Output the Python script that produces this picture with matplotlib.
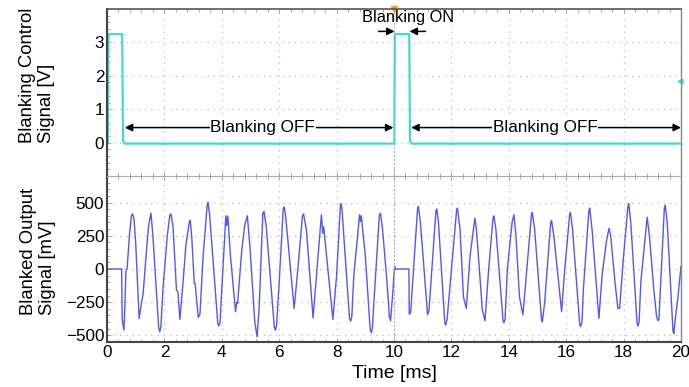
import matplotlib
matplotlib.use("Agg")
import matplotlib.pyplot as plt
from matplotlib.ticker import MultipleLocator

plt.rcParams['font.family'] = ['Liberation Sans', 'DejaVu Sans']

# ---- data ----
ctrl_t = [0.0, 0.03, 0.05, 0.53, 0.56, 0.62, 9.98, 10.01, 10.03, 10.53, 10.56, 10.62, 20.0]
ctrl_v = [0.0, 0.0, 3.25, 3.25, 0.05, -0.03, -0.03, 0.0, 3.25, 3.25, 0.05, -0.03, -0.03]

out_t = [0.0, 0.51, 0.53, 0.59, 0.62, 0.66, 0.70, 0.78, 0.85, 0.89, 0.94, 1.00, 1.12, 1.17, 1.26,
         1.38, 1.45, 1.53, 1.60, 1.80, 1.84, 1.88, 1.95, 2.10, 2.19, 2.23, 2.30, 2.42, 2.47, 2.54, 2.65, 2.75,
         2.87, 2.90, 2.95, 3.04, 3.07, 3.18, 3.24, 3.35, 3.49, 3.52, 3.58, 3.86, 3.90, 3.94, 4.00, 4.14, 4.17, 4.21,
         4.30, 4.48, 4.52, 4.55, 4.70, 4.80, 4.89, 4.98, 5.15, 5.23, 5.30, 5.43, 5.47, 5.55, 5.83, 5.87, 5.91,
         6.00, 6.14, 6.17, 6.22, 6.35, 6.52, 6.65, 6.81, 6.85, 6.95, 7.18, 7.30, 7.47, 7.52, 7.55, 7.87,
         8.00, 8.13, 8.16, 8.20, 8.25, 8.45, 8.49, 8.53, 8.60, 8.80, 8.83, 8.86, 9.00, 9.17, 9.21, 9.25, 9.30, 9.49, 9.53, 9.60, 9.75,
         9.84, 9.88, 9.95, 10.02, 10.04, 10.52,
         10.53, 10.58, 10.82, 10.85, 10.92, 11.17, 11.22, 11.46, 11.49, 11.55, 11.77, 11.80, 11.85, 12.18, 12.21, 12.30,
         12.42, 12.52, 12.65, 12.82, 12.87, 13.05, 13.07, 13.17, 13.30, 13.45, 13.48, 13.55, 13.80, 13.83, 13.87,
         13.95, 14.12, 14.18, 14.25, 14.37, 14.49, 14.55, 14.79, 14.82, 14.90, 15.14, 15.17, 15.25, 15.46, 15.49,
         15.57, 15.84, 15.95, 16.12, 16.15, 16.22, 16.47, 16.50, 16.55, 16.60, 16.79, 16.82, 16.90, 17.14, 17.25, 17.40,
         17.49, 17.55, 17.70, 17.80, 17.86, 18.00, 18.15, 18.18, 18.25, 18.47, 18.50, 18.54, 18.60, 18.82, 18.90,
         19.05, 19.15, 19.20, 19.23, 19.42, 19.45, 19.52, 19.72, 19.75, 19.80, 19.90, 20.0]
out_mv = [0, 0, -380, -460, -300, -10, 0, 250, 400, 415, 380, 194, -373, -300, -184,
          150, 327, 420, 250, -440, -473, -430, -150, 250, 405, 415, 320, -160, -170, -380, -100, 183,
          355, 365, 250, -108, -110, -365, -340, 100, 480, 501, 400, -410, -430, -400, -150, 400, 327, 398,
          100, -322, -249, -260, 150, 330, 400, 168, -400, -511, -300, 420, 433, 317, -440, -461, -420,
          -100, 450, 466, 408, 100, -297, 0, 400, 415, 290, -368, -50, 408, 270, 317, -380,
          -50, 470, 491, 420, 250, -370, -393, -360, -50, 408, 358, 400, 100, -455, -481, -440, -250, 405, 420, 300, -83,
          -360, -390, -200, 20, 0, 0,
          -340, -330, 450, 471, 350, -345, -310, 435, 451, 350, -405, -423, -380, 440, 458, 300,
          -210, -297, 100, 383, 300, -222, -300, -390, 0, 385, 400, 300, -390, -405, -380,
          0, 360, 408, 250, -207, -345, -200, 410, 425, 300, -380, -398, -250, 350, 365,
          250, -322, 0, 410, 425, 300, -415, -435, -400, -150, 440, 458, 300, -373, -50, 207,
          307, 250, -100, -297, -297, 100, 470, 491, 350, -410, -430, -400, -100, 390, 250,
          -150, -360, -390, -380, 460, 478, 350, -465, -486, -380, -200, 20]

x_ticks = list(range(0, 21, 2))
ctrl_ticks = [0, 1, 2, 3]
out_ticks = [-500, -250, 0, 250, 500]

# ---- figure ----
fig = plt.figure(figsize=(6.89, 3.87), dpi=100)
L, W = 107/689, 574/689
ax1 = fig.add_axes([L, 1 - 176/387, W, 167/387])
ax2 = fig.add_axes([L, 1 - 342/387, W, 166/387])

CYAN = '#3fdcd6'
BLUE = '#5058f5'
GRID = '#b8b8b8'

ax1.plot(ctrl_t, ctrl_v, color=CYAN, lw=1.6, solid_joinstyle='miter')
ax2.plot(out_t, out_mv, color=BLUE, lw=1.0)

ax1.set_xlim(0, 20); ax1.set_ylim(-1, 4)
ax2.set_xlim(0, 20); ax2.set_ylim(-550, 700)

for ax, yt, ymin in ((ax1, ctrl_ticks, 0.2), (ax2, out_ticks, 50)):
    ax.set_xticks(x_ticks)
    ax.set_yticks(yt)
    ax.xaxis.set_minor_locator(MultipleLocator(0.4))
    ax.yaxis.set_minor_locator(MultipleLocator(ymin))
    ax.grid(True, which='major', color=GRID, linestyle=(0, (1, 4)), lw=0.9)
    ax.tick_params(which='both', direction='in', color='#999999', top=True, right=False,
                   labelsize=12.3, pad=2)
    ax.tick_params(which='major', length=3, width=0.6)
    ax.tick_params(which='minor', length=2.5, width=0.6)
    ax.spines['left'].set_color('#444444'); ax.spines['left'].set_linewidth(1.5)
    ax.spines['right'].set_color('#888888'); ax.spines['right'].set_linewidth(1.0)
    ax.spines['top'].set_color('#888888'); ax.spines['bottom'].set_color('#888888')

ax1.spines['top'].set_color('#555555'); ax1.spines['top'].set_linewidth(1.2)
ax1.spines['bottom'].set_color('#aaaaaa'); ax1.spines['bottom'].set_linewidth(0.8)
ax2.spines['top'].set_color('#aaaaaa'); ax2.spines['top'].set_linewidth(0.8)
ax2.spines['bottom'].set_color('#444444'); ax2.spines['bottom'].set_linewidth(1.5)
ax1.tick_params(labelbottom=False)
ax2.set_xlabel('Time [ms]', fontsize=14, labelpad=4)

# center vertical line
for ax in (ax1, ax2):
    ax.axvline(10, color='#aaaaaa', lw=0.7, linestyle=(0, (2, 2)))

# y labels
fig.text(37/689, 1 - 143/387, 'Blanking Control\nSignal [V]', rotation=90,
         ha='center', va='bottom', multialignment='left', fontsize=13.3)
fig.text(38/689, 1 - 315/387, 'Blanked Output\nSignal [mV]', rotation=90,
         ha='center', va='bottom', multialignment='left', fontsize=13.3)

# annotations
arrow = dict(arrowstyle='<|-|>', color='black', lw=1.1, mutation_scale=11, shrinkA=0, shrinkB=0)
ax1.annotate('', xy=(0.62, 0.45), xytext=(9.98, 0.45), arrowprops=arrow)
ax1.annotate('', xy=(10.6, 0.45), xytext=(20.0, 0.45), arrowprops=arrow)
for xc in (5.43, 15.27):
    ax1.text(xc, 0.45, 'Blanking OFF', ha='center', va='center', fontsize=12.3,
             bbox=dict(facecolor='white', edgecolor='none', pad=0.5))

one = dict(arrowstyle='-|>', color='black', lw=1.1, mutation_scale=11, shrinkA=0, shrinkB=0)
ax1.annotate('', xy=(10.02, 3.33), xytext=(9.46, 3.33), arrowprops=one)
ax1.annotate('', xy=(10.54, 3.33), xytext=(11.1, 3.33), arrowprops=one)
ax1.text(10.5, 3.76, 'Blanking ON', ha='center', va='center', fontsize=11.8)

# scope markers
ax1.plot([10], [4.0], marker='v', color='#f0a020', ms=4, clip_on=False)
ax1.plot([19.98], [1.84], marker='<', color=CYAN, ms=3.5, clip_on=False)

fig.savefig('out.png', dpi=100)
